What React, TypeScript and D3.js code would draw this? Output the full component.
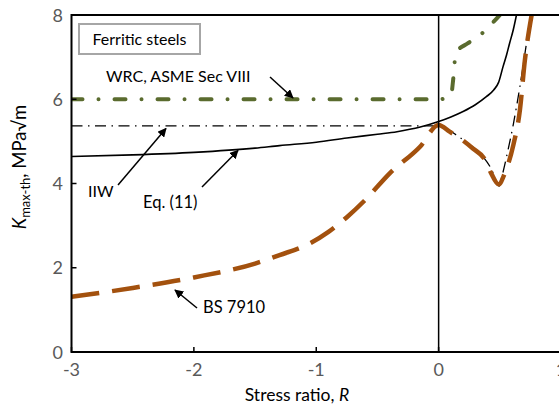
import React from "react";
import * as d3 from "d3";

const xTicks = [-3, -2, -1, 0, 1];
const yTicks = [0, 2, 4, 6, 8];

const wrcR = [-3, 0, 0.1, 0.12, 0.14, 0.24, 0.33, 0.42, 0.5];
const wrcK = [6, 6, 6.07, 6.5, 7.1, 7.33, 7.5, 7.75, 8.0];

const iiwR = [-3, 0, 0.06, 0.15, 0.25, 0.35, 0.43, 0.495, 0.514, 0.56, 0.61, 0.664, 0.718, 0.753];
const iiwK = [5.37, 5.37, 5.31, 5.14, 4.93, 4.68, 4.35, 3.94, 4.13, 4.7, 5.4, 6.3, 7.33, 8.0];

const eqR = [-3, -2.5, -2, -1.5, -1.3, -1, -0.75, -0.5, -0.34, -0.15, 0, 0.1, 0.2, 0.3, 0.39, 0.45, 0.49, 0.527, 0.555, 0.58, 0.61, 0.636];
const eqK = [4.64, 4.68, 4.74, 4.84, 4.9, 4.98, 5.08, 5.17, 5.23, 5.34, 5.47, 5.58, 5.71, 5.87, 6.06, 6.22, 6.4, 6.78, 7.05, 7.33, 7.65, 8.0];

const bsR = [-3, -2.5, -2, -1.5, -1.3, -1.05, -0.9, -0.75, -0.6, -0.4, -0.15, 0, 0.09, 0.2, 0.28, 0.38, 0.43, 0.49, 0.54, 0.61, 0.664, 0.705, 0.76];
const bsK = [1.31, 1.52, 1.77, 2.1, 2.3, 2.58, 2.85, 3.2, 3.61, 4.24, 4.88, 5.39, 5.23, 5.02, 4.83, 4.56, 4.24, 3.98, 4.24, 4.91, 5.74, 6.93, 8.0];

const FONT = "Lato, 'Open Sans', sans-serif";

export default function App() {
  const W = 559, H = 407;
  const x = d3.scaleLinear().domain([-3, 1]).range([71.5, 561]);
  const y = d3.scaleLinear().domain([0, 8]).range([352, 15]);
  const line = (rs: number[], ks: number[]) =>
    d3.line<number>().x((_, i) => x(rs[i])).y((_, i) => y(ks[i])).curve(d3.curveMonotoneX)(rs) || "";

  const green = "#5a6b2e";
  const orange = "#a3510e";
  const arrows = [
    { x1: 270, y1: 77, x2: 293, y2: 98 },
    { x1: 118, y1: 185, x2: 166, y2: 128.5 },
    { x1: 202, y1: 187, x2: 238, y2: 150.5 },
    { x1: 197, y1: 308, x2: 175, y2: 290 },
  ];

  return (
    <svg width={W} height={H} style={{ display: "block", position: "absolute", left: 0, top: 0 }} fontFamily={FONT}>
      <defs>
        <clipPath id="plot">
          <rect x={x(-3)} y={y(8)} width={x(1) - x(-3)} height={y(0) - y(8)} />
        </clipPath>
        <marker id="ah" viewBox="0 0 10 10" refX="9" refY="5" markerWidth="9" markerHeight="9" markerUnits="userSpaceOnUse" orient="auto">
          <path d="M0,0 L10,5 L0,10 z" fill="#000" />
        </marker>
      </defs>
      <rect width={W} height={H} fill="#fff" />

      <g clipPath="url(#plot)">
        <path d={line(iiwR, iiwK)} fill="none" stroke="#000" strokeWidth={1.3} strokeDasharray="11 5.5 1.5 5.5" />
        <path d={line(eqR, eqK)} fill="none" stroke="#000" strokeWidth={1.6} />
        <path d={line(wrcR, wrcK)} fill="none" stroke={green} strokeWidth={4} strokeLinecap="round" strokeDasharray="11 16 0.01 16" />
        <path d={line(bsR, bsK)} fill="none" stroke={orange} strokeWidth={4.5} strokeDasharray="28 13" />
      </g>

      {/* frame */}
      <line x1={x(0)} x2={x(0)} y1={y(0)} y2={y(8)} stroke="#000" strokeWidth={1.5} />
      <line x1={x(-3)} x2={x(1)} y1={y(8)} y2={y(8)} stroke="#000" strokeWidth={2} />
      <line x1={x(-3)} x2={x(1)} y1={y(0)} y2={y(0)} stroke="#000" strokeWidth={2} />
      <line x1={x(-3)} x2={x(-3)} y1={y(0) + 1} y2={y(8) - 1} stroke="#000" strokeWidth={2} />

      {yTicks.map((t) => (
        <g key={"y" + t}>
          <line x1={x(-3)} x2={x(-3) + 5} y1={y(t)} y2={y(t)} stroke="#000" strokeWidth={1.5} />
          <text x={63} y={y(t) + 6.5} textAnchor="end" fontSize={18} fill="#595959">{t}</text>
        </g>
      ))}
      {xTicks.map((t) => (
        <g key={"x" + t}>
          <line x1={x(t)} x2={x(t)} y1={y(0)} y2={y(0) - 5} stroke="#000" strokeWidth={1.5} />
          <text x={x(t)} y={376} textAnchor="middle" fontSize={18} fill="#595959">{t}</text>
        </g>
      ))}

      <text x={297} y={401} textAnchor="middle" fontSize={17.5} fill="#000">
        Stress ratio, <tspan fontStyle="italic">R</tspan>
      </text>
      <text transform="translate(26,167) rotate(-90)" textAnchor="middle" fontSize={18.5} fill="#000">
        <tspan fontStyle="italic">K</tspan>
        <tspan fontSize={13} dy={4}>max-th</tspan>
        <tspan dy={-4}>, MPa√m</tspan>
      </text>

      <rect x={79} y={24} width={121} height={30} fill="#fff" stroke="#a6a6a6" strokeWidth={2} />
      <text x={139.5} y={45} textAnchor="middle" fontSize={16} fill="#000">Ferritic steels</text>

      <text x={106} y={82} fontSize={16} fill="#000">WRC, ASME Sec VIII</text>
      <text x={88} y={197} fontSize={16} fill="#000">IIW</text>
      <text x={143} y={208} fontSize={16.5} fill="#000">Eq. (11)</text>
      <text x={203} y={313} fontSize={16.5} fill="#000">BS 7910</text>

      {arrows.map((a, i) => (
        <line key={i} x1={a.x1} y1={a.y1} x2={a.x2} y2={a.y2} stroke="#000" strokeWidth={1.5} markerEnd="url(#ah)" />
      ))}
    </svg>
  );
}
